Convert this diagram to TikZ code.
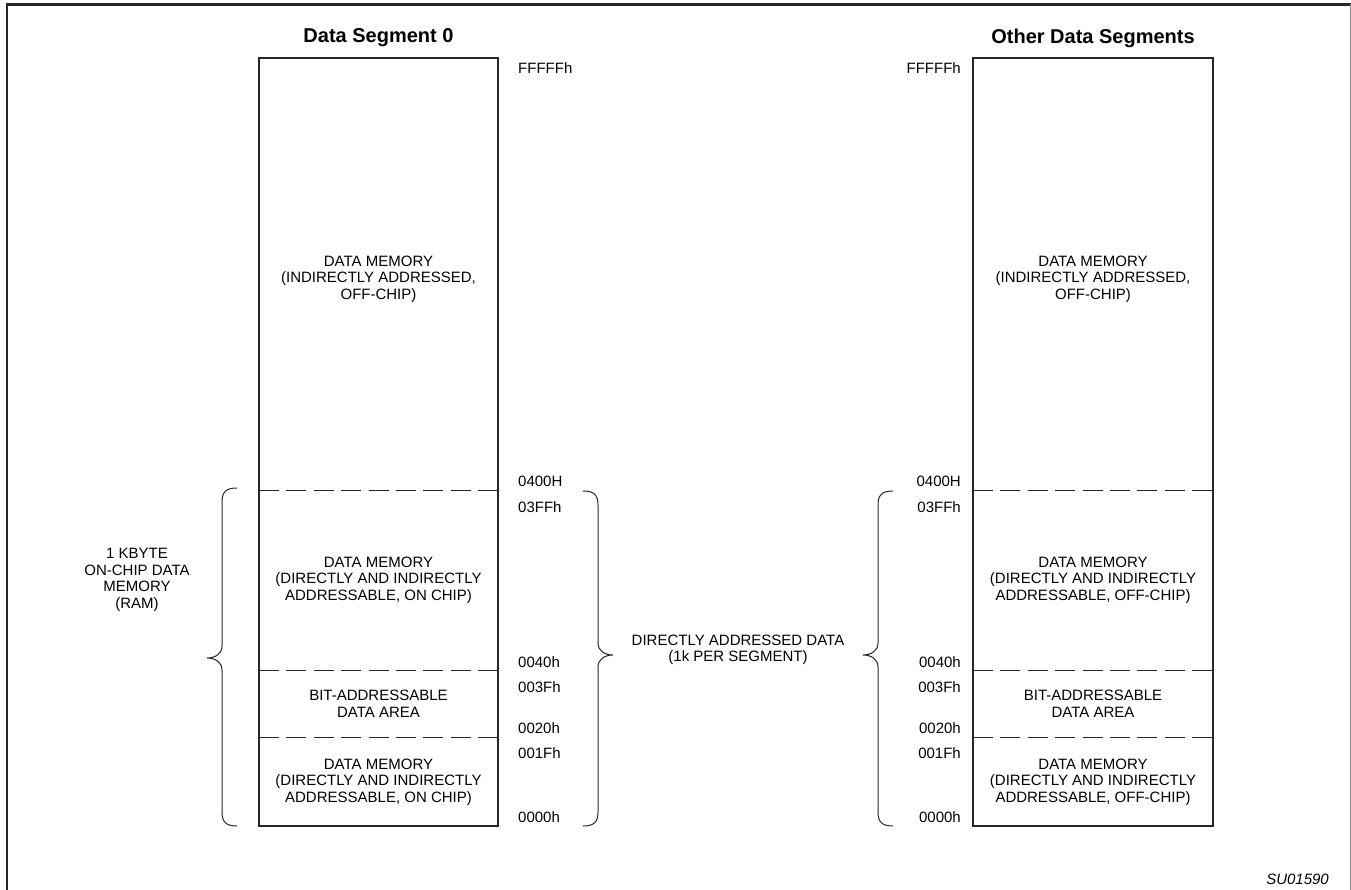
\documentclass[tikz,border=0pt]{standalone}
\usepackage{fontspec}
\setmainfont{Liberation Sans}
\begin{document}
\begin{tikzpicture}[x=1pt,y=-1pt,
  lbl/.style={font=\fontsize{15}{16.5}\selectfont, align=center, inner sep=0pt},
  addrL/.style={font=\fontsize{15}{16.5}\selectfont, inner sep=0pt, anchor=west},
  addrR/.style={font=\fontsize{15}{16.5}\selectfont, inner sep=0pt, anchor=east},
  ttl/.style={font=\fontsize{20}{22}\selectfont\bfseries, inner sep=0pt},
  membox/.style={draw=black!85, line width=2pt},
  sep/.style={draw=black!85, line width=1pt, dash pattern=on 20pt off 7.4pt},
  brc/.style={draw=black!85, line width=1pt}
]
\useasboundingbox (0,0) rectangle (1351,890);
% frame
\draw[line width=2.6pt, black!85] (7,890) -- (7,4.5) -- (1351,4.5);
\draw[line width=1pt, black!45] (1350,4.5) -- (1350,890);

% titles
\node[ttl] (t0) at (378.5,38) {Data Segment 0};
\node[ttl] (t1) at (1093,38) {Other Data Segments};

% left box separators and box
\draw[sep] (259,490) -- (498,490);
\draw[sep] (259,670) -- (498,670);
\draw[sep] (259,737) -- (498,737);
\draw[membox] (259,58) rectangle (498,826);

% right box separators and box
\draw[sep] (973,490) -- (1213,490);
\draw[sep] (973,670) -- (1213,670);
\draw[sep] (973,737) -- (1213,737);
\draw[membox] (973,58) rectangle (1213,826);

% left box texts
\node[lbl] (l1) at (378.5,279) {DATA MEMORY\\(INDIRECTLY ADDRESSED,\\OFF-CHIP)};
\node[lbl] (l2) at (378.5,580) {DATA MEMORY\\(DIRECTLY AND INDIRECTLY\\ADDRESSABLE, ON CHIP)};
\node[lbl] (l3) at (378.5,704) {BIT-ADDRESSABLE\\DATA AREA};
\node[lbl] (l4) at (378.5,782) {DATA MEMORY\\(DIRECTLY AND INDIRECTLY\\ADDRESSABLE, ON CHIP)};

% right box texts
\node[lbl] (r1) at (1093,279) {DATA MEMORY\\(INDIRECTLY ADDRESSED,\\OFF-CHIP)};
\node[lbl] (r2) at (1093,580) {DATA MEMORY\\(DIRECTLY AND INDIRECTLY\\ADDRESSABLE, OFF-CHIP)};
\node[lbl] (r3) at (1093,704) {BIT-ADDRESSABLE\\DATA AREA};
\node[lbl] (r4) at (1093,782) {DATA MEMORY\\(DIRECTLY AND INDIRECTLY\\ADDRESSABLE, OFF-CHIP)};

% left column addresses
\node[addrL] (a1) at (518,68) {FFFFFh};
\node[addrL] (a2) at (518,481) {0400H};
\node[addrL] (a3) at (518,507) {03FFh};
\node[addrL] (a4) at (518,662) {0040h};
\node[addrL] (a5) at (518,687) {003Fh};
\node[addrL] (a6) at (518,728) {0020h};
\node[addrL] (a7) at (518,753) {001Fh};
\node[addrL] (a8) at (518,817) {0000h};

% right column addresses
\node[addrR] (b1) at (961,68) {FFFFFh};
\node[addrR] (b2) at (961,481) {0400H};
\node[addrR] (b3) at (961,507) {03FFh};
\node[addrR] (b4) at (961,662) {0040h};
\node[addrR] (b5) at (961,687) {003Fh};
\node[addrR] (b6) at (961,728) {0020h};
\node[addrR] (b7) at (961,753) {001Fh};
\node[addrR] (b8) at (961,817) {0000h};

% side labels
\node[lbl] (kb) at (137,580) {1 KBYTE\\ON-CHIP DATA\\MEMORY\\(RAM)};
\node[lbl] (dd) at (738,650) {DIRECTLY ADDRESSED DATA\\(1k PER SEGMENT)};
\node[lbl, font=\fontsize{15}{16.5}\selectfont\itshape, anchor=east] (su) at (1329,879) {SU01590};

% braces
% left brace, tip pointing left
\draw[brc] (237,488) .. controls (226,488) and (222,492) .. (222,502)
  -- (222,646) .. controls (222,654) and (215,658) .. (207,658)
  .. controls (215,658) and (222,662) .. (222,670)
  -- (222,812) .. controls (222,822) and (226,826) .. (237,826);
% middle-left brace, tip pointing right
\draw[brc] (583,491) .. controls (594,491) and (598,495) .. (598,505)
  -- (598,643) .. controls (598,651) and (605,655) .. (613,655)
  .. controls (605,655) and (598,659) .. (598,667)
  -- (598,812) .. controls (598,822) and (594,826) .. (583,826);
% middle-right brace, tip pointing left
\draw[brc] (893,491) .. controls (882,491) and (878,495) .. (878,505)
  -- (878,643) .. controls (878,651) and (871,655) .. (863,655)
  .. controls (871,655) and (878,659) .. (878,667)
  -- (878,812) .. controls (878,822) and (882,826) .. (893,826);
\end{tikzpicture}
\end{document}
